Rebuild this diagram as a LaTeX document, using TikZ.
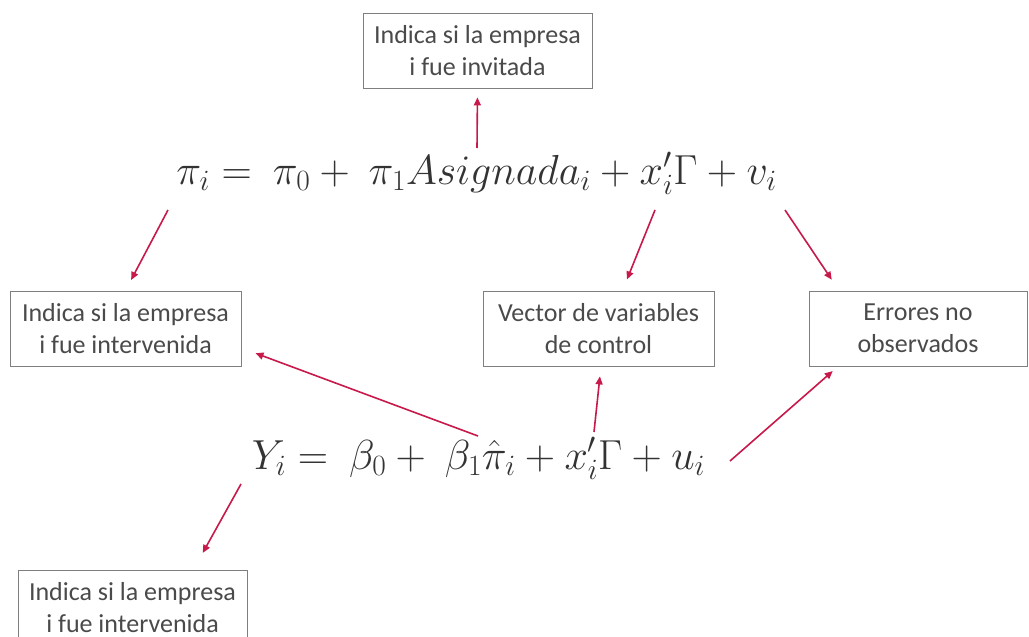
\RequirePackage{fix-cm}
\documentclass[tikz,border=0pt]{standalone}
\usepackage[no-math]{fontspec}
\setmainfont{Carlito}
\usepackage{amsmath}
\usetikzlibrary{arrows.meta, positioning}
\definecolor{exRed}{HTML}{C8194B}
\definecolor{exText}{HTML}{4A4A4A}
\definecolor{exLine}{HTML}{7F7F7F}
\tikzset{
  notebox/.style={
    draw=exLine, line width=0.9pt, minimum width=229pt, minimum height=75pt,
    font=\fontsize{26}{32}\selectfont, text=exText, align=center, inner sep=2pt
  },
  eqnode/.style={font=\fontsize{42}{46}\selectfont, text=black!80, inner sep=0pt, anchor=base},
  pointer/.style={-{Triangle[length=8pt, width=7pt]}, line width=1.6pt, exRed}
}
\begin{document}
\begin{tikzpicture}[x=1pt, y=-1pt]
  \useasboundingbox (0,0) rectangle (1029,637);
  % boxes
  \node[notebox] (invitada) at (477.5,50.5) {Indica si la empresa\\i fue invitada};
  \node[notebox, minimum width=231pt] (intervA) at (125.5,328.5) {Indica si la empresa\\i fue intervenida};
  \node[notebox, minimum width=231pt] (control) at (598.5,328.5) {Vector de variables\\de control};
  \node[notebox, minimum width=218pt] (errores) at (918,328.5) {Errores no\\observados};
  \node[notebox] (intervB) at (132.5,607.5) {Indica si la empresa\\i fue intervenida};
  % equations
  \node[eqnode] (primera) at (476.5,184) {$\pi_i =\ \pi_0 +\ \pi_1 Asignada_i + x_i'\Gamma + v_i$};
  \node[eqnode] (segunda) at (478.5,469) {$Y_i =\ \beta_0 +\ \beta_1\hat{\pi}_i + x_i'\Gamma + u_i$};
  % arrow tails
  \coordinate (tAsig) at (477,148);
  \coordinate (tPi) at (168,210);
  \coordinate (tX) at (655,210);
  \coordinate (tV) at (785,210);
  \coordinate (tHat) at (478,436);
  \coordinate (tXb) at (594,432);
  \coordinate (tU) at (730,461);
  \coordinate (tY) at (241,484);
  % arrows
  \draw[pointer, shorten >=9pt] (tAsig) -- (invitada.south);
  \draw[pointer, shorten >=12pt] (tPi) -- (intervA.north);
  \draw[pointer, shorten >=12pt] (tX) -- ([xshift=24pt]control.north);
  \draw[pointer, shorten >=13pt] (tV) -- ([xshift=-79pt]errores.north);
  \draw[pointer, shorten >=15pt] (tHat) -- ([yshift=-19.5pt]intervA.east);
  \draw[pointer, shorten >=10pt] (tXb) -- ([xshift=2.5pt]control.south);
  \draw[pointer, shorten >=7pt] (tU) -- ([xshift=-80pt]errores.south);
  \draw[pointer, shorten >=19pt] (tY) -- ([xshift=61pt]intervB.north);
\end{tikzpicture}
\end{document}
